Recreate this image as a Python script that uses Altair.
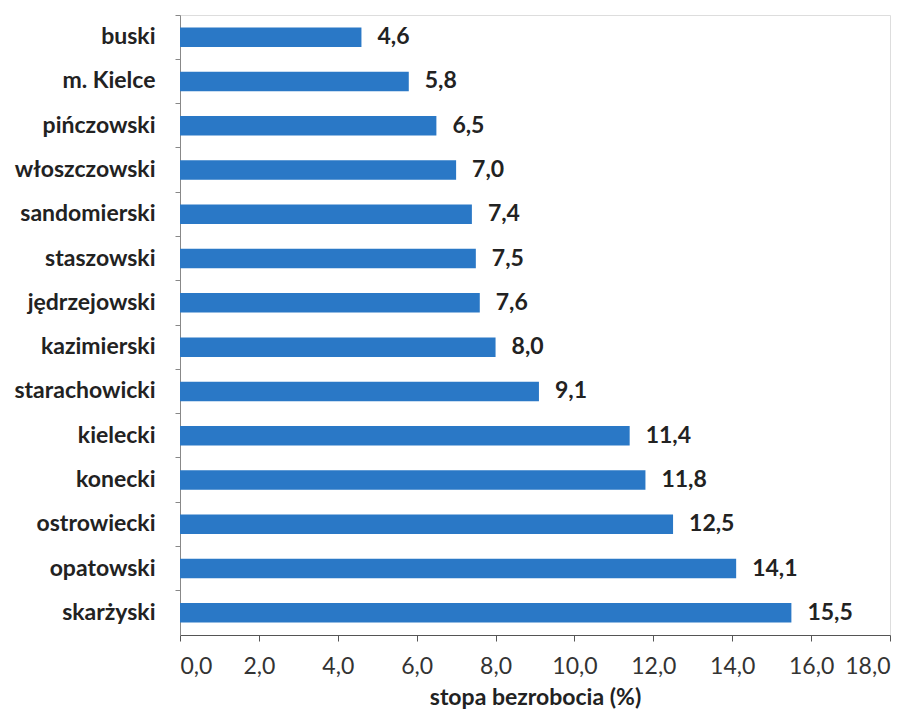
import altair as alt
import pandas as pd

powiaty = ["buski", "m. Kielce", "pińczowski", "włoszczowski", "sandomierski",
           "staszowski", "jędrzejowski", "kazimierski", "starachowicki", "kielecki",
           "konecki", "ostrowiecki", "opatowski", "skarżyski"]
stopa = [4.6, 5.8, 6.5, 7.0, 7.4, 7.5, 7.6, 8.0, 9.1, 11.4, 11.8, 12.5, 14.1, 15.5]

df = pd.DataFrame({"powiat": powiaty, "stopa": stopa})

FONT = "Lato"
TXT = "#222222"

y_enc = alt.Y("powiat:N", sort=powiaty, title=None,
              scale=alt.Scale(paddingInner=0, paddingOuter=0),
              axis=alt.Axis(labelFont=FONT, labelFontSize=23, labelFontWeight="bold",
                            labelColor=TXT, labelPadding=20, domainColor="#888888",
                            tickColor="#888888", tickSize=5, bandPosition=0,
                            ticks=True))
x_enc = alt.X("stopa:Q", title="stopa bezrobocia (%)",
              scale=alt.Scale(domain=[0, 18], nice=False),
              axis=alt.Axis(values=[0, 2, 4, 6, 8, 10, 12, 14, 16, 18],
                            labelExpr="replace(format(datum.value, '.1f'), '.', ',')",
                            labelFont=FONT, labelFontSize=23, labelColor="#333333",
                            labelPadding=14, grid=False, domainColor="#555555",
                            tickColor="#555555", tickSize=6,
                            titleFont=FONT, titleFontSize=23, titleFontWeight="bold",
                            titleColor=TXT, titlePadding=8))

bars = alt.Chart(df).mark_bar(color="#2A78C6", height=alt.RelativeBandSize(0.44)).encode(
    y=y_enc, x=x_enc)

labels = alt.Chart(df).transform_calculate(
    lab="replace(format(datum.stopa, '.1f'), '.', ',')"
).mark_text(align="left", baseline="middle", dx=16, font=FONT, fontSize=23,
            fontWeight="bold", color=TXT).encode(
    y=alt.Y("powiat:N", sort=powiaty),
    x="stopa:Q",
    text="lab:N")

chart = alt.layer(bars, labels).properties(
    width=710, height=620,
    autosize=alt.AutoSizeParams(type="none"),
    padding={"left": 172, "top": 7, "right": 15, "bottom": 80},
).configure_view(stroke=None).configure(background="white")

chart.save("out.html", embed_options={"renderer": "svg", "actions": False})
